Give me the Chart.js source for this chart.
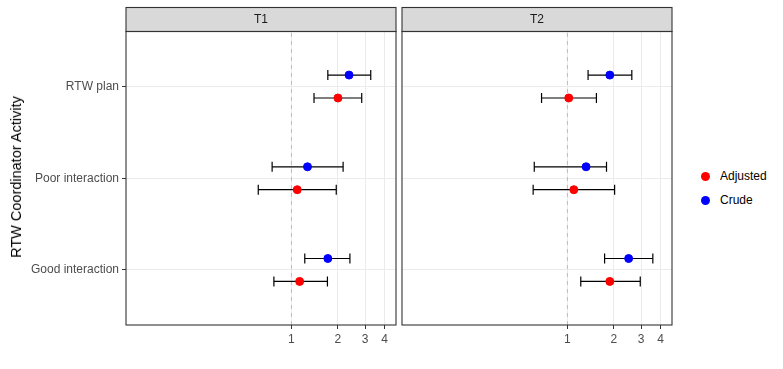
<!DOCTYPE html>
<html>
<head>
<meta charset="utf-8">
<script src="https://cdn.jsdelivr.net/npm/chart.js@4.4.1/dist/chart.umd.min.js"></script>
<style>
  body { margin: 0; background: #fff; font-family: "Liberation Sans", Arial, sans-serif; }
  #wrap { position: relative; width: 783px; height: 369px; }
  canvas { position: absolute; top: 0; }
  #ytitle { position: absolute; left: 16px; top: 177px; transform: translate(-50%, -50%) rotate(-90deg);
            font-size: 14.5px; color: #000; white-space: nowrap; }
  .leg { position: absolute; left: 701px; font-size: 12px; color: #000; white-space: nowrap; }
  .leg span.dot { display: inline-block; width: 9px; height: 9px; border-radius: 50%; vertical-align: middle; margin-right: 10px; }
</style>
</head>
<body>
<div id="wrap">
  <canvas id="p1" width="398" height="369" style="left:0"></canvas>
  <canvas id="p2" width="276" height="369" style="left:398px"></canvas>
  <div id="ytitle">RTW Coordinator Activity</div>
  <div class="leg" style="top:169px"><span class="dot" style="background:#ff0000"></span>Adjusted</div>
  <div class="leg" style="top:193px"><span class="dot" style="background:#0000ff"></span>Crude</div>
</div>
<script>
  'use strict';

  // categories, top to bottom
  var categories = ['RTW plan', 'Poor interaction', 'Good interaction'];
  var panels = ['T1', 'T2'];
  var xTicks = [1, 2, 3, 4];

  // T1
  var t1CrudeEst = [2.36, 1.27, 1.72];
  var t1CrudeLo  = [1.72, 0.75, 1.22];
  var t1CrudeHi  = [3.26, 2.16, 2.39];
  var t1AdjEst   = [2.00, 1.09, 1.13];
  var t1AdjLo    = [1.40, 0.61, 0.77];
  var t1AdjHi    = [2.85, 1.95, 1.71];

  // T2
  var t2CrudeEst = [1.88, 1.32, 2.49];
  var t2CrudeLo  = [1.36, 0.61, 1.74];
  var t2CrudeHi  = [2.61, 1.79, 3.57];
  var t2AdjEst   = [1.02, 1.10, 1.88];
  var t2AdjLo    = [0.68, 0.60, 1.22];
  var t2AdjHi    = [1.54, 2.02, 2.96];

  var DODGE = 0.125;
  var FONT = '"Liberation Sans", Arial, sans-serif';

  function yPos(i) { return categories.length - i; }

  function pointSet(label, color, est, off) {
    return {
      type: 'scatter', label: label, order: 0,
      data: est.map(function(v, i) { return { x: v, y: yPos(i) + off }; }),
      backgroundColor: color, borderColor: color, pointRadius: 4, borderWidth: 1
    };
  }

  function barSets(lo, hi, off) {
    return lo.map(function(l, i) {
      return {
        type: 'line', order: 1,
        data: [{ x: l, y: yPos(i) + off }, { x: hi[i], y: yPos(i) + off }],
        borderColor: '#000', borderWidth: 1.2,
        pointStyle: 'line', pointRotation: 90, pointRadius: 5,
        pointBorderColor: '#000', pointBorderWidth: 1.2
      };
    });
  }

  var panelFrame = {
    id: 'panelFrame',
    afterDraw: function(chart) {
      var ctx = chart.ctx, a = chart.chartArea;
      ctx.save();
      ctx.fillStyle = '#d9d9d9';
      ctx.fillRect(a.left, 7.5, a.right - a.left, a.top - 7.5);
      ctx.strokeStyle = '#333333';
      ctx.lineWidth = 1.1;
      ctx.strokeRect(a.left, 7.5, a.right - a.left, a.top - 7.5);
      ctx.strokeRect(a.left, a.top, a.right - a.left, a.bottom - a.top);
      ctx.fillStyle = '#1a1a1a';
      ctx.font = '12px ' + FONT;
      ctx.textAlign = 'center';
      ctx.textBaseline = 'middle';
      ctx.fillText(chart.options.plugins.panelFrame.title, (a.left + a.right) / 2, (7.5 + a.top) / 2 + 0.5);
      ctx.restore();
    }
  };

  function makePanel(id, title, crude, adj, showY) {
    var datasets = [
      pointSet('Adjusted', '#ff0000', adj.est, -DODGE),
      pointSet('Crude', '#0000ff', crude.est, DODGE)
    ].concat(barSets(adj.lo, adj.hi, -DODGE), barSets(crude.lo, crude.hi, DODGE));
    datasets.push({
      type: 'line', order: 2,
      data: [{ x: 1, y: 0.4 }, { x: 1, y: 3.6 }],
      borderColor: '#bebebe', borderWidth: 1, borderDash: [4, 4], pointRadius: 0
    });

    return new Chart(document.getElementById(id), {
      type: 'scatter',
      data: { datasets: datasets },
      plugins: [panelFrame],
      options: {
        responsive: false, animation: false, devicePixelRatio: 1,
        layout: { autoPadding: false, padding: { top: 31.5, right: 2, left: 0, bottom: 0 } },
        plugins: { legend: { display: false }, tooltip: { enabled: false }, panelFrame: { title: title } },
        scales: {
          x: {
            type: 'logarithmic', min: 0.085, max: 4.75,
            afterBuildTicks: function(s) { s.ticks = xTicks.map(function(v) { return { value: v }; }); },
            afterFit: function(s) { s.height = 44; s.paddingLeft = 0; s.paddingRight = 0; },
            ticks: { color: '#4d4d4d', font: { size: 12, family: FONT }, padding: 3,
                     maxRotation: 0, autoSkip: false, callback: function(v) { return String(v); } },
            grid: { color: '#ebebeb', lineWidth: 1, tickColor: '#333333', tickLength: 4 },
            border: { display: false }
          },
          y: {
            type: 'linear', min: 0.4, max: 3.6,
            afterBuildTicks: function(s) { s.ticks = categories.map(function(c, i) { return { value: yPos(i) }; }); },
            afterFit: function(s) { s.width = showY ? 126 : 4; s.paddingTop = 0; s.paddingBottom = 0; },
            ticks: { display: showY, color: '#4d4d4d', font: { size: 12, family: FONT }, padding: 3,
                     callback: function(v) { return categories[categories.length - v]; } },
            grid: { color: '#ebebeb', lineWidth: 1, tickColor: '#333333', tickLength: 4, drawTicks: showY },
            border: { display: false }
          }
        }
      }
    });
  }

  makePanel('p1', panels[0],
    { est: t1CrudeEst, lo: t1CrudeLo, hi: t1CrudeHi },
    { est: t1AdjEst, lo: t1AdjLo, hi: t1AdjHi }, true);
  makePanel('p2', panels[1],
    { est: t2CrudeEst, lo: t2CrudeLo, hi: t2CrudeHi },
    { est: t2AdjEst, lo: t2AdjLo, hi: t2AdjHi }, false);
</script>
</body>
</html>
